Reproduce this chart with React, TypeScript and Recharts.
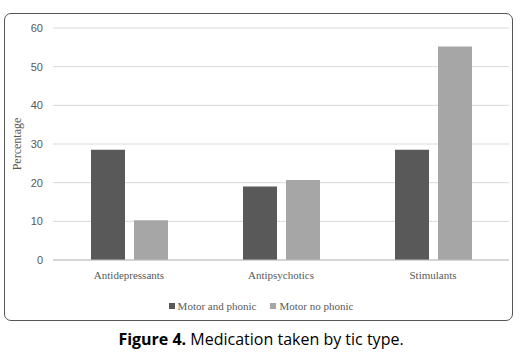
import React from "react";
import { BarChart, Bar, XAxis, YAxis, CartesianGrid } from "recharts";

const categories = ["Antidepressants", "Antipsychotics", "Stimulants"];
const motorAndPhonic = [28.5, 19.0, 28.5];
const motorNoPhonic = [10.3, 20.7, 55.2];
const yTicks = [0, 10, 20, 30, 40, 50, 60];
const seriesNames = ["Motor and phonic", "Motor no phonic"];
const colors = ["#595959", "#a6a6a6"];

const data = categories.map((c, i) => ({
  name: c,
  a: motorAndPhonic[i],
  b: motorNoPhonic[i],
}));

export default function App() {
  return (
    <div
      style={{
        position: "absolute",
        left: 0,
        top: 0,
        width: 522,
        height: 354,
        background: "#fff",
        overflow: "hidden",
      }}
    >
      <div
        style={{
          position: "absolute",
          left: 4,
          top: 13,
          width: 509,
          height: 308,
          border: "1.5px solid #555",
          borderRadius: 7,
          boxSizing: "border-box",
        }}
      />
      <div style={{ position: "absolute", left: 0, top: 0 }}>
        <BarChart
          width={522}
          height={354}
          data={data}
          margin={{ top: 28, right: 13, left: 0, bottom: 64 }}
          barCategoryGap={38}
          barGap={9}
        >
          <CartesianGrid vertical={false} stroke="#d9d9d9" />
          <XAxis
            dataKey="name"
            height={30}
            tickLine={false}
            axisLine={{ stroke: "#bfbfbf" }}
            tickSize={0}
            tickMargin={11}
            tick={{ fill: "#595959", fontSize: 11, fontFamily: "Liberation Serif" }}
          />
          <YAxis
            width={53}
            domain={[0, 60]}
            ticks={yTicks}
            axisLine={false}
            tickLine={false}
            tickSize={0}
            tickMargin={10}
            tick={{ fill: "#595959", fontSize: 11, fontFamily: "Liberation Sans" }}
            label={{
              value: "Percentage",
              angle: -90,
              position: "insideLeft",
              offset: 0,
              dx: 17,
              fill: "#595959",
              fontSize: 12,
              fontFamily: "Liberation Serif",
              style: { textAnchor: "middle" },
            }}
          />
          <Bar dataKey="a" name={seriesNames[0]} fill={colors[0]} barSize={34} isAnimationActive={false} />
          <Bar dataKey="b" name={seriesNames[1]} fill={colors[1]} barSize={34} isAnimationActive={false} />
        </BarChart>
      </div>
      <div
        style={{
          position: "absolute",
          left: 0,
          width: 522,
          top: 300,
          display: "flex",
          justifyContent: "center",
          fontFamily: "Liberation Serif",
          fontSize: 11,
          color: "#595959",
        }}
      >
        {seriesNames.map((n, i) => (
          <div key={n} style={{ display: "flex", alignItems: "center", marginRight: i === 0 ? 14 : 0 }}>
            <span
              style={{
                display: "inline-block",
                width: 6,
                height: 6,
                background: colors[i],
                marginRight: 3,
              }}
            />
            <span>{n}</span>
          </div>
        ))}
      </div>
      <div
        style={{
          position: "absolute",
          left: 0,
          width: 522,
          top: 328,
          textAlign: "center",
          fontFamily: "Open Sans",
          fontSize: 16,
          color: "#000",
        }}
      >
        <b>Figure 4.</b> Medication taken by tic type.
      </div>
    </div>
  );
}
